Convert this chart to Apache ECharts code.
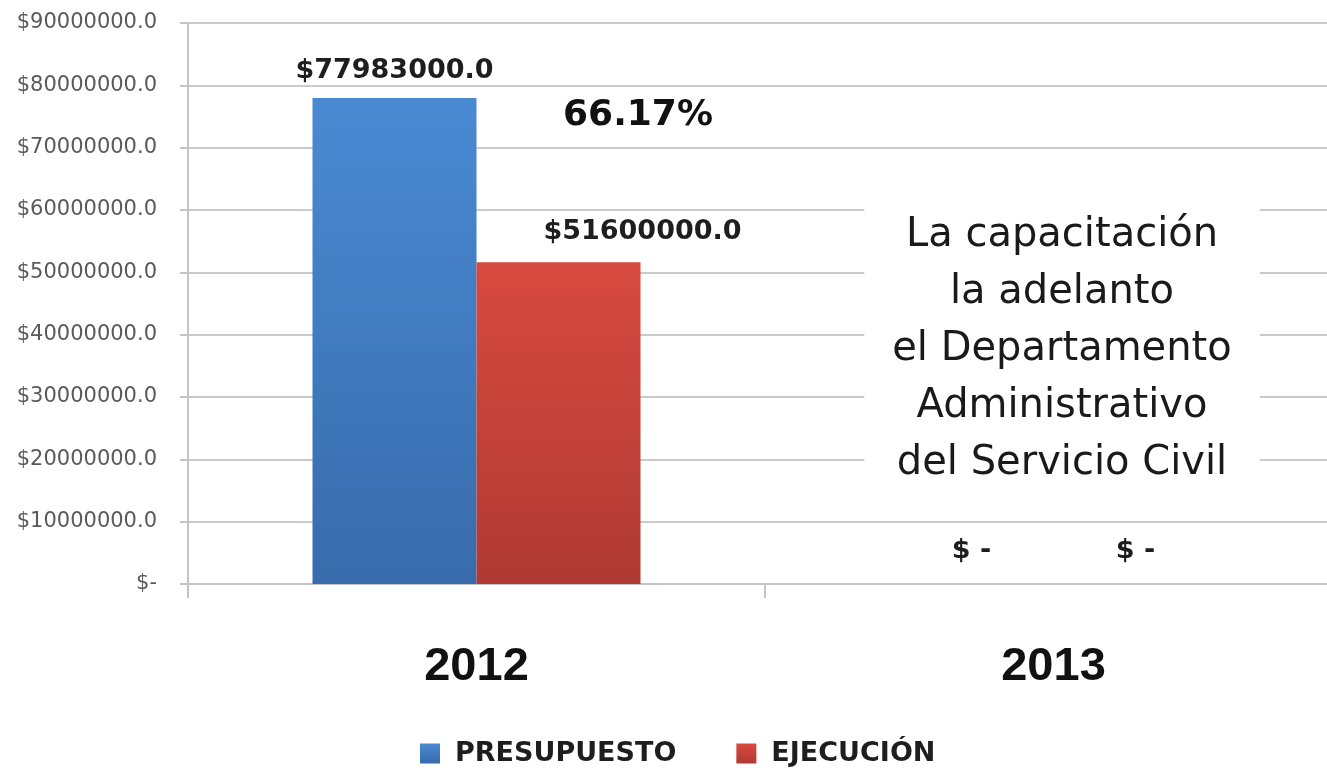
<!DOCTYPE html>
<html>
<head>
<meta charset="utf-8">
<script src="https://cdn.jsdelivr.net/npm/echarts@6/dist/echarts.min.js"></script>
<style>
html,body{margin:0;padding:0;background:#fff;overflow:hidden;width:1327px;height:770px;}
#chart{width:1342px;height:770px;}
</style>
</head>
<body>
<div id="chart"></div>
<script>
const categories = ['2012', '2013'];
const seriesNames = ['PRESUPUESTO', 'EJECUCIÓN'];
const presupuesto = [77983000, 0];
const ejecucion = [51600000, 0];
const yTicks = [0, 10000000, 20000000, 30000000, 40000000, 50000000, 60000000, 70000000, 80000000, 90000000];
const yTickLabels = ['$-', '$10000000.0', '$20000000.0', '$30000000.0', '$40000000.0', '$50000000.0', '$60000000.0', '$70000000.0', '$80000000.0', '$90000000.0'];
const executionPct = '66.17%';
const noteLines = ['La capacitación', 'la adelanto', 'el Departamento', 'Administrativo', 'del Servicio Civil'];

function money(v) { return v === 0 ? '$ -' : '$' + v + '.0'; }

const chart = echarts.init(document.getElementById('chart'), null, { renderer: 'canvas' });

const labelFont = { fontFamily: 'DejaVu Sans', fontWeight: 'bold', fontSize: 27, color: '#1e1e1e' };

function makeData(values, isRed) {
  return values.map((v, i) => {
    const item = { value: v, label: {} };
    if (v === 0) { item.label.distance = 20; }
    if (isRed && v !== 0) { item.label.offset = [84, 0]; item.label.distance = 17; }
    return item;
  });
}

const option = {
  backgroundColor: '#ffffff',
  animation: false,
  grid: { left: 188, right: 0, top: 23, bottom: 186, containLabel: false },
  legend: {
    left: 415, top: 735,
    itemWidth: 20, itemHeight: 20, itemGap: 60,
    icon: 'rect',
    textStyle: { fontFamily: 'DejaVu Sans', fontWeight: 'bold', fontSize: 27, color: '#1e1e1e', padding: [0, 0, 0, 10] },
    data: seriesNames
  },
  xAxis: {
    type: 'category',
    data: categories,
    axisLine: { show: true, lineStyle: { color: '#c4c4c4', width: 2 } },
    axisTick: { show: true, length: 14, lineStyle: { color: '#c4c4c4', width: 2 } },
    axisLabel: { margin: 60, fontFamily: 'Liberation Sans', fontWeight: 'bold', fontSize: 47, color: '#111' }
  },
  yAxis: {
    type: 'value',
    min: 0, max: 90000000, interval: 10000000,
    axisLine: { show: true, lineStyle: { color: '#c4c4c4', width: 2 } },
    axisTick: { show: true, length: 8, lineStyle: { color: '#c4c4c4', width: 2 } },
    splitLine: { show: true, lineStyle: { color: '#cacaca', width: 2 } },
    axisLabel: {
      margin: 31, fontFamily: 'DejaVu Sans', fontSize: 21, color: '#5a5a5a',
      formatter: function (v) { const i = yTicks.indexOf(v); return i >= 0 ? yTickLabels[i] : ''; }
    }
  },
  series: [
    {
      name: seriesNames[0], type: 'bar', barWidth: 164, barGap: '0%',
      itemStyle: { color: new echarts.graphic.LinearGradient(0, 0, 0, 1, [{ offset: 0, color: '#4A8AD3' }, { offset: 1, color: '#386BAC' }]) },
      label: Object.assign({ show: true, position: 'top', distance: 13, formatter: p => money(p.value) }, labelFont),
      data: makeData(presupuesto, false)
    },
    {
      name: seriesNames[1], type: 'bar', barWidth: 164, barGap: '0%',
      itemStyle: { color: new echarts.graphic.LinearGradient(0, 0, 0, 1, [{ offset: 0, color: '#D84A40' }, { offset: 1, color: '#AF3A33' }]) },
      label: Object.assign({ show: true, position: 'top', distance: 13, formatter: p => money(p.value) }, labelFont),
      data: makeData(ejecucion, true)
    }
  ],
  graphic: [
    {
      type: 'text', x: 638, y: 116, z: 100,
      style: { text: executionPct, font: 'bold 36px "DejaVu Sans"', fill: '#111', align: 'center', verticalAlign: 'middle' }
    },
    {
      type: 'text', x: 1062, y: 350, z: 100,
      style: {
        text: noteLines.join('\n'), font: '40px "DejaVu Sans"', fill: '#1a1a1a',
        align: 'center', verticalAlign: 'middle', lineHeight: 57,
        backgroundColor: '#ffffff', padding: [10, 28]
      }
    }
  ]
};

chart.setOption(option);
</script>
</body>
</html>
